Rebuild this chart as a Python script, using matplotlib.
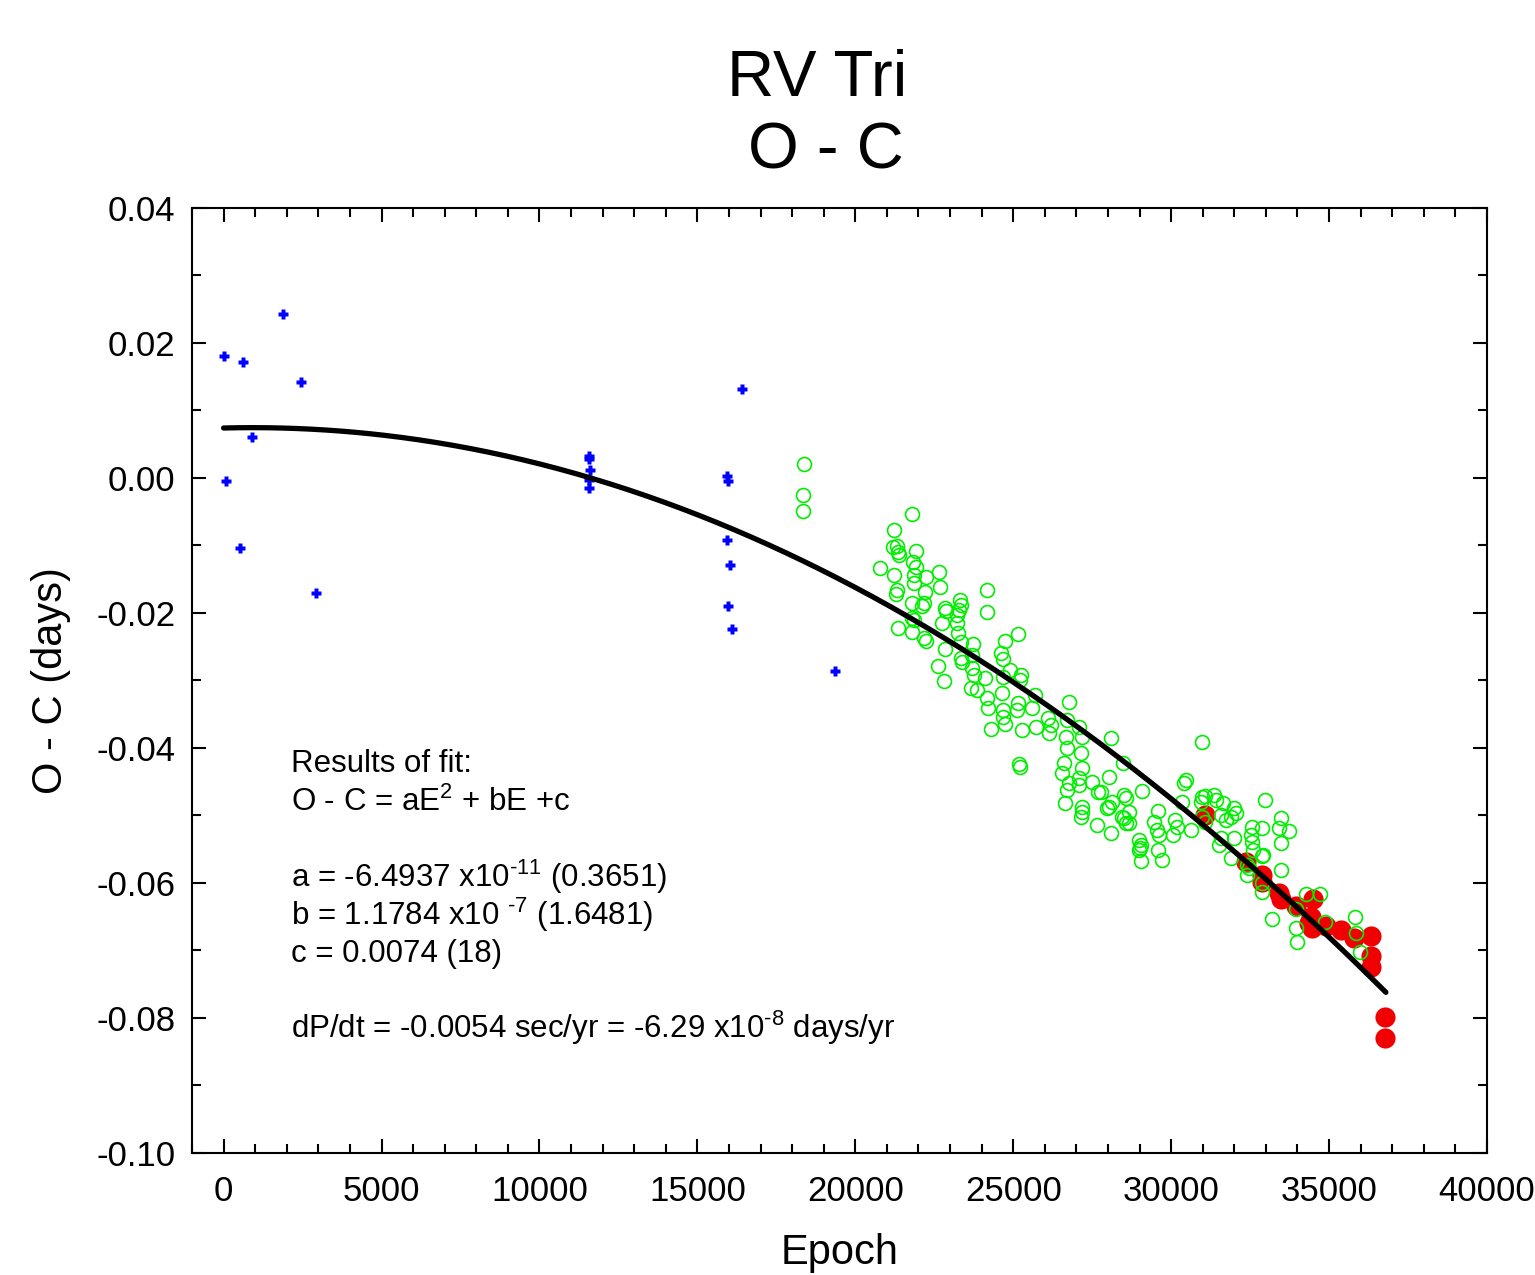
import numpy as np
import matplotlib
matplotlib.use("Agg")
import matplotlib.pyplot as plt
from matplotlib.ticker import MultipleLocator, FuncFormatter

plt.rcParams["font.family"] = ["Liberation Sans", "DejaVu Sans"]
plt.rcParams["mathtext.fontset"] = "custom"
plt.rcParams["mathtext.rm"] = "Liberation Sans"
plt.rcParams["mathtext.default"] = "regular"
plt.rcParams["axes.unicode_minus"] = False

# early visual timings (blue crosses)
blue_epoch = [0, 623, 1867, 2446, 908, 85, 528, 2911,
              11560, 11582, 11604, 11560, 11560,
              16415, 15950, 15981, 15950, 16022, 15981, 16098, 19345]
blue_oc = [0.0181, 0.0172, 0.0243, 0.0142, 0.0061, -0.0004, -0.0104, -0.0171,
           0.0032, 0.0028, 0.0012, -0.0003, -0.0015,
           0.0132, 0.0003, -0.0005, -0.0092, -0.0129, -0.0189, -0.0224, -0.0286]

# photographic / visual timings (green open circles)
green_epoch = [
    18386, 18355, 18355,
    21804, 21234, 21203, 21329, 21361, 21393, 21931, 20791, 21836, 21931,
    21234, 21867, 22247, 22659, 21867, 22690, 21329, 21298, 22215, 24178,
    21804, 22184, 22121, 23323, 23355, 22848, 22880, 23291, 24178, 21804,
    21867, 23228, 22753, 23228, 21361, 21804, 22184, 22247, 23260, 23355,
    25159, 24747, 23735, 22848, 23703, 23355, 23386, 24621, 24684, 22627,
    23703, 23766, 24114, 24684, 24905, 25254, 25222, 22817, 23671, 23861,
    24652, 25697, 26773, 24178, 24209, 24684, 25159, 25602, 26108,
    25127, 24684, 24747, 24304, 25285, 25728, 26203, 26140, 26709, 27089,
    27184, 26678, 26709, 27152, 28102, 28481, 25190, 25222, 26614, 26551,
    27184, 27089, 26773, 27500, 28038, 26709, 27690, 27089, 26646, 28513,
    28576, 29083, 28133, 27975, 27184, 27184, 27152, 28671, 28513, 28671,
    27659, 28102, 29589, 29462, 29557, 29621, 28988, 29051, 28988, 29051,
    29589, 29716, 30127, 30190, 30064, 30349, 30412, 30475, 30633, 30981,
    27785, 28038, 28450, 28576, 29019, 30981, 30950, 31076, 31361, 31424,
    31646, 30981, 31076, 31583, 31741, 31994, 32057, 31899, 31994, 31583,
    31519, 31899, 32564, 32532, 32564, 32595, 32880, 32975, 33481, 33418,
    33735, 33481, 32880, 32406, 32469, 32406, 33481, 32880, 32880, 33197,
    33956, 33956, 33988, 34273, 34716, 34874, 35823, 35855, 35982, 32912,
]
green_oc = [
    0.0021, -0.0025, -0.0049,
    -0.0053, -0.0077, -0.0102, -0.0101, -0.0110, -0.0114, -0.0108, -0.0133, -0.0124, -0.0132,
    -0.0144, -0.0144, -0.0147, -0.0139, -0.0156, -0.0161, -0.0166, -0.0172, -0.0169, -0.0166,
    -0.0185, -0.0185, -0.0190, -0.0181, -0.0188, -0.0193, -0.0197, -0.0196, -0.0199, -0.0207,
    -0.0210, -0.0203, -0.0215, -0.0215, -0.0222, -0.0228, -0.0237, -0.0241, -0.0230, -0.0243,
    -0.0231, -0.0241, -0.0246, -0.0253, -0.0262, -0.0267, -0.0273, -0.0259, -0.0268, -0.0279,
    -0.0281, -0.0292, -0.0296, -0.0295, -0.0284, -0.0292, -0.0299, -0.0301, -0.0311, -0.0314,
    -0.0319, -0.0321, -0.0332, -0.0326, -0.0341, -0.0344, -0.0333, -0.0341, -0.0356,
    -0.0344, -0.0354, -0.0364, -0.0372, -0.0373, -0.0369, -0.0366, -0.0378, -0.0359, -0.0369,
    -0.0384, -0.0384, -0.0400, -0.0407, -0.0385, -0.0422, -0.0424, -0.0428, -0.0422, -0.0437,
    -0.0430, -0.0444, -0.0452, -0.0450, -0.0443, -0.0462, -0.0465, -0.0455, -0.0481, -0.0470,
    -0.0474, -0.0464, -0.0480, -0.0489, -0.0487, -0.0495, -0.0502, -0.0495, -0.0504, -0.0511,
    -0.0514, -0.0526, -0.0493, -0.0510, -0.0521, -0.0529, -0.0536, -0.0544, -0.0551, -0.0567,
    -0.0551, -0.0566, -0.0507, -0.0517, -0.0529, -0.0480, -0.0452, -0.0447, -0.0521, -0.0391,
    -0.0465, -0.0487, -0.0502, -0.0511, -0.0548, -0.0473, -0.0480, -0.0471, -0.0470, -0.0477,
    -0.0481, -0.0502, -0.0510, -0.0499, -0.0507, -0.0489, -0.0496, -0.0502, -0.0533, -0.0533,
    -0.0544, -0.0563, -0.0517, -0.0529, -0.0539, -0.0551, -0.0519, -0.0477, -0.0504, -0.0519,
    -0.0523, -0.0541, -0.0560, -0.0573, -0.0578, -0.0588, -0.0581, -0.0600, -0.0613, -0.0653,
    -0.0639, -0.0667, -0.0687, -0.0616, -0.0616, -0.0658, -0.0650, -0.0674, -0.0702, -0.0559,
]

# CCD timings (red filled circles)
red_epoch = [31076, 32374, 32880, 32880, 33418, 33481, 33956, 34431, 34368, 34462,
             34494, 34906, 35380, 35792, 36330, 36330, 36330, 36773, 36773]
red_oc = [-0.0499, -0.0569, -0.0588, -0.0599, -0.0615, -0.0624, -0.0634, -0.0650, -0.0659, -0.0667,
          -0.0624, -0.0664, -0.0670, -0.0681, -0.0679, -0.0708, -0.0724, -0.0799, -0.0830]

# quadratic fit coefficients
fit_a = -6.4937e-11
fit_b = 1.1784e-7
fit_c = 0.0074
fit_end = 36800


def fmt_y(v, pos):
    if abs(v) < 1e-9:
        v = 0.0
    return f"{v:.2f}"


fig = plt.figure(figsize=(15.35, 12.75), dpi=100)
ax = fig.add_axes([0.1251, 0.0957, 0.8436, 0.7412])

E = np.linspace(0, fit_end, 400)
ax.plot(E, fit_a * E**2 + fit_b * E + fit_c, color="black", lw=3.8,
        solid_capstyle="round", zorder=4)
ax.plot(red_epoch, red_oc, "o", color="#f00000", ms=14.5, mec="none", zorder=2)
ax.plot(green_epoch, green_oc, "o", mfc="none", mec="#00ee00", ms=10, mew=1.2, zorder=3)
ax.plot(blue_epoch, blue_oc, "P", color="#0000ff", ms=7, mec="none", zorder=3)

ax.set_xlim(-1000, 40000)
ax.set_ylim(-0.10, 0.04)
ax.xaxis.set_major_locator(MultipleLocator(5000))
ax.xaxis.set_minor_locator(MultipleLocator(1000))
ax.yaxis.set_major_locator(MultipleLocator(0.02))
ax.yaxis.set_minor_locator(MultipleLocator(0.01))
ax.yaxis.set_major_formatter(FuncFormatter(fmt_y))
ax.tick_params(which="both", direction="in", top=True, right=True, width=1.5)
ax.tick_params(which="major", length=10, labelsize=25)
ax.tick_params(which="minor", length=6.5)
ax.tick_params(axis="x", pad=16)
ax.tick_params(axis="y", pad=12)
for s in ax.spines.values():
    s.set_linewidth(1.5)

ax.set_xlabel("Epoch", fontsize=30, labelpad=18)
ax.set_ylabel("O - C (days)", fontsize=30, labelpad=18)

fig.text(0.5323, 0.9247, "RV Tri", fontsize=47, ha="center", va="baseline")
fig.text(0.5381, 0.8682, "O - C", fontsize=47, ha="center", va="baseline")

notes = [
    (0.4032, "Results of fit:"),
    (0.3619, r"O - C = aE$^{2}$ + bE +c"),
    (0.2815, r"a = -6.4937 x10$^{\text{-11}}$ (0.3651)"),
    (0.2413, r"b = 1.1784 x10 $^{\text{-7}}$ (1.6481)"),
    (0.2021, "c = 0.0074 (18)"),
    (0.1217, r"dP/dt = -0.0054 sec/yr = -6.29 x10$^{\text{-8}}$ days/yr"),
]
for yy, txt in notes:
    ax.text(0.0764, yy, txt, transform=ax.transAxes, fontsize=22.5, va="baseline", ha="left")

fig.savefig("out.png", dpi=100)
